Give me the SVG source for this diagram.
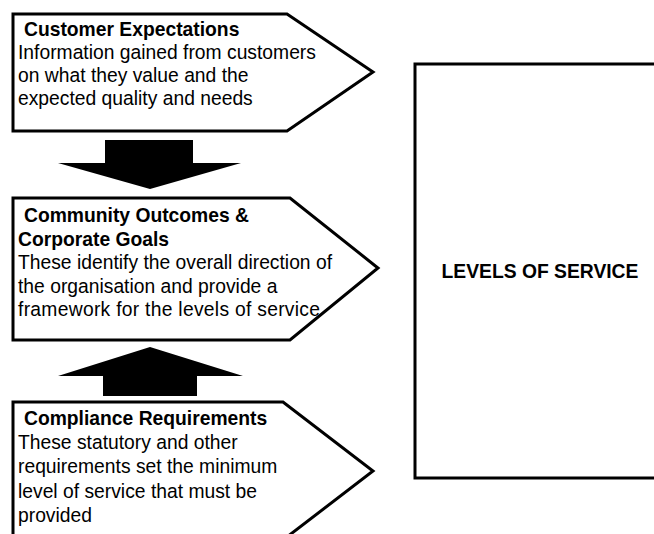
<svg xmlns="http://www.w3.org/2000/svg" width="654" height="534" viewBox="0 0 654 534">
<style>
.box{fill:#fff;stroke:#000;stroke-width:3;stroke-linejoin:miter}
.t{font-family:"Liberation Sans",Arial,sans-serif;font-size:19.3px;fill:#000}
.b{font-weight:bold}
.arr{fill:#000;stroke:none}
</style>
<rect width="654" height="534" fill="#fff"/>
<g id="customer-expectations">
<polygon class="box" points="13,14 287,14 373,72 287,131 13,131"/>
<text class="t b" x="24" y="35.5">Customer Expectations</text>
<text class="t" x="18" y="58.7">Information gained from customers</text>
<text class="t" x="18" y="82">on what they value and the</text>
<text class="t" x="18" y="105.2">expected quality and needs</text>
</g>
<g id="community-outcomes">
<polygon class="box" points="13,198 290,198 378,268 290,340 13,340"/>
<text class="t b" x="24" y="222">Community Outcomes &amp;</text>
<text class="t b" x="18" y="245.5">Corporate Goals</text>
<text class="t" x="18" y="269">These identify the overall direction of</text>
<text class="t" x="18" y="292.5">the organisation and provide a</text>
<text class="t" x="18" y="316" textLength="302" lengthAdjust="spacing">framework for the levels of service</text>
</g>
<g id="compliance-requirements">
<polygon class="box" points="13,402 283,402 373,471 283,540 13,540"/>
<text class="t b" x="24" y="424.5">Compliance Requirements</text>
<text class="t" x="18" y="448.5">These statutory and other</text>
<text class="t" x="18" y="473">requirements set the minimum</text>
<text class="t" x="18" y="497.5">level of service that must be</text>
<text class="t" x="18" y="522">provided</text>
</g>
<g id="levels-of-service">
<rect class="box" x="415" y="64" width="265" height="414"/>
<text class="t b" x="540" y="278" text-anchor="middle">LEVELS OF SERVICE</text>
</g>
<g id="connectors">
<polygon class="arr" points="105,140 193,140 193,163 241,163 150,189 58,163 105,163"/>
<polygon class="arr" points="150,347 243,376 197,376 197,396 103,396 103,376 58,376"/>
</g>
</svg>
